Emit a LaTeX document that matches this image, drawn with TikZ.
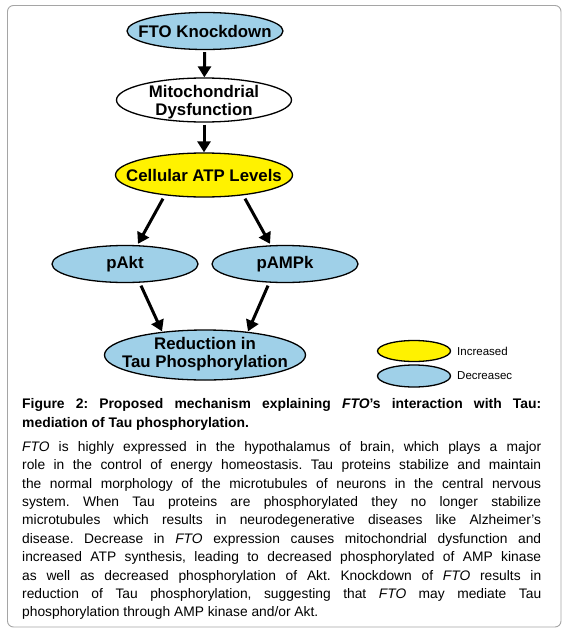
\documentclass[tikz,border=0pt]{standalone}
\usepackage{fontspec}
\setmainfont{Liberation Sans}
\usetikzlibrary{shapes.geometric,arrows.meta}
\definecolor{ellblue}{RGB}{159,208,232}
\definecolor{ellyellow}{RGB}{255,242,0}
\definecolor{framegray}{RGB}{165,165,165}
\frenchspacing
\begin{document}
\begin{tikzpicture}[x=1pt,y=-1pt,
  ell/.style={ellipse, draw=black, line width=1.3pt, inner sep=0pt},
  elltext/.style={align=center, font=\fontsize{16.8}{18.5}\selectfont\bfseries, inner sep=0pt},
  arr/.style={line width=3pt, -{Triangle[length=11pt,width=13pt]}},
  legtext/.style={anchor=west, font=\fontsize{11.5}{13}\selectfont, inner sep=0pt},
  para/.style={anchor=north west, inner sep=0pt, text width=519pt, align=justify},
]
\useasboundingbox (0,0) rectangle (564,632);
\draw[framegray, line width=0.9pt, rounded corners=6pt] (7.5,5.5) rectangle (561,627);

% ellipses
\node[ell, fill=ellblue, minimum width=156pt, minimum height=37pt] (fto) at (205,31) {};
\node[elltext] (ftot) at (fto) {FTO Knockdown};
\node[ell, fill=white, minimum width=175pt, minimum height=44pt] (mito) at (204,100) {};
\node[elltext] (mitot) at ([yshift=-2pt]mito.center) {Mitochondrial\\Dysfunction};
\node[ell, fill=ellyellow, minimum width=177pt, minimum height=44pt] (atp) at (204,175) {};
\node[elltext] (atpt) at (atp) {Cellular ATP Levels};
\node[ell, fill=ellblue, minimum width=146pt, minimum height=37pt] (pakt) at (125,264) {};
\node[elltext] (paktt) at (pakt) {pAkt};
\node[ell, fill=ellblue, minimum width=146pt, minimum height=37pt] (pampk) at (285,264) {};
\node[elltext] (pampkt) at (pampk) {pAMPk};
\node[ell, fill=ellblue, minimum width=201pt, minimum height=50pt] (red) at (205,355) {};
\node[elltext] (redt) at ([yshift=1pt]red.center) {Reduction in\\Tau Phosphorylation};

% arrows
\draw[arr, shorten <=2pt] (fto) -- (mito);
\draw[arr, shorten <=2pt] (mito) -- (atp);
\draw[arr] ([xshift=-41pt,yshift=-1pt]atp.south) -- ([xshift=13pt,yshift=1pt]pakt.north);
\draw[arr] ([xshift=41pt,yshift=-1pt]atp.south) -- ([xshift=-15pt,yshift=1pt]pampk.north);
\draw[arr] ([xshift=16pt,yshift=-2.5pt]pakt.south) -- ([xshift=-43pt,yshift=-2pt]red.north);
\draw[arr] ([xshift=-17pt,yshift=-2.5pt]pampk.south) -- ([xshift=43pt,yshift=-2pt]red.north);

% legend
\node[ell, fill=ellyellow, minimum width=73pt, minimum height=21pt] (legi) at (414,351) {};
\node[legtext] (legit) at (457,351) {Increased};
\node[ell, fill=ellblue, minimum width=73pt, minimum height=22pt] (legd) at (414,376) {};
\node[legtext] (legdt) at (457,376) {Decreasec};

% caption
\node[para, font=\fontsize{13.9}{19}\selectfont\bfseries] (cap) at (22,398)
  {\hyphenpenalty=10000 Figure 2: Proposed mechanism explaining \textit{FTO}’s interaction with Tau:\linebreak mediation of Tau phosphorylation.};
\node[para, font=\fontsize{13.8}{18.4}\selectfont] (body) at (22,441)
  {\hyphenpenalty=10000 \textit{FTO} is highly expressed in the hypothalamus of brain, which plays a major\linebreak
  role in the control of energy homeostasis. Tau proteins stabilize and maintain\linebreak
  the normal morphology of the microtubules of neurons in the central nervous\linebreak
  system. When Tau proteins are phosphorylated they no longer stabilize\linebreak
  microtubules which results in neurodegenerative diseases like Alzheimer’s\linebreak
  disease. Decrease in \textit{FTO} expression causes mitochondrial dysfunction and\linebreak
  increased ATP synthesis, leading to decreased phosphorylated of AMP kinase\linebreak
  as well as decreased phosphorylation of Akt. Knockdown of \textit{FTO} results in\linebreak
  reduction of Tau phosphorylation, suggesting that \textit{FTO} may mediate Tau\linebreak
  phosphorylation through AMP kinase and/or Akt.};
\end{tikzpicture}
\end{document}
